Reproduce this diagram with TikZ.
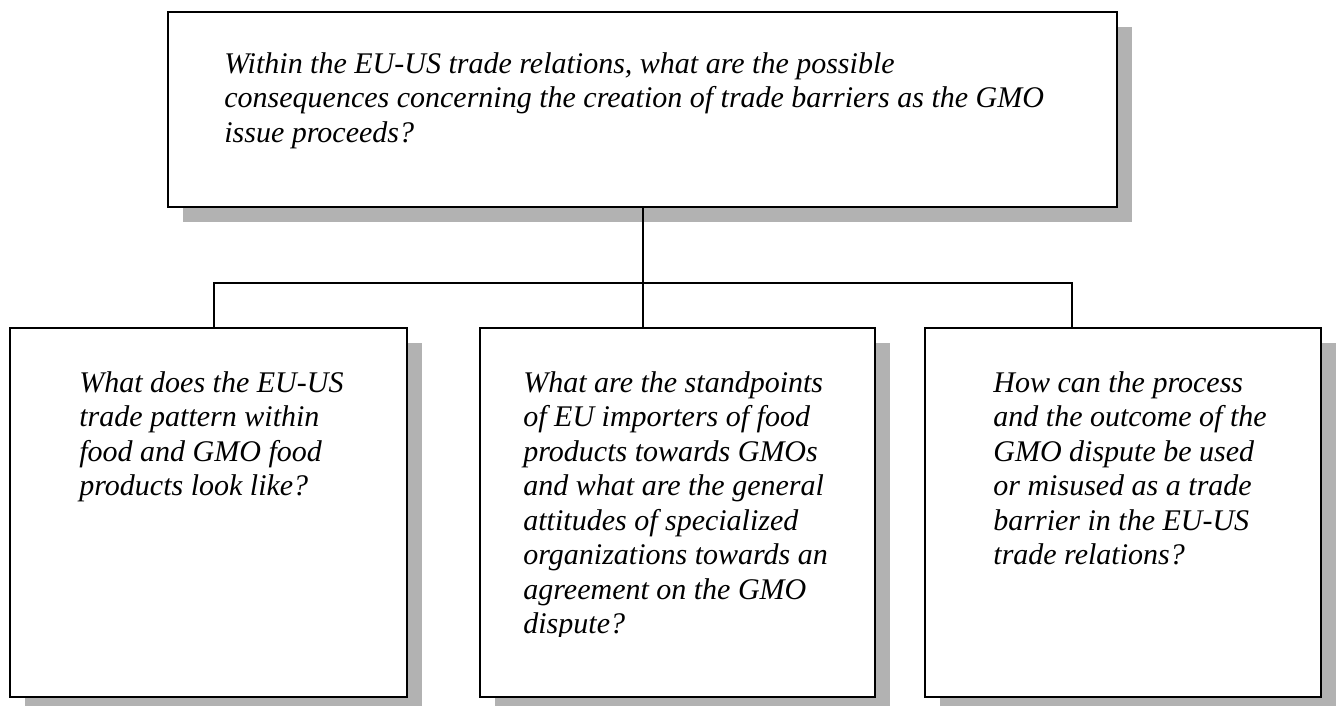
\documentclass[tikz,border=0pt]{standalone}
\usepackage{fontspec}
\setmainfont{Liberation Serif}
\usetikzlibrary{shadows}

\begin{document}
\begin{tikzpicture}[x=0.5pt,y=-0.5pt,
  qbox/.style={draw,line width=1.1pt,fill=white,inner sep=0pt,
    drop shadow={shadow xshift=7.5pt,shadow yshift=-7.5pt,fill=black!30,opacity=1}},
  qtext/.style={anchor=base west,align=left,inner sep=0pt,
    font=\fontsize{15}{17.25}\selectfont\itshape},
  link/.style={line width=1pt}]
\useasboundingbox (0,0) rectangle (1339,706);
\node[qbox,minimum width=474.5pt,minimum height=97.5pt] (main) at (642.5,109.5) {};
\node[qbox,minimum width=198.5pt,minimum height=184.5pt] (left) at (208.5,512.5) {};
\node[qbox,minimum width=197.5pt,minimum height=184.5pt] (mid) at (677.5,512.5) {};
\node[qbox,minimum width=198pt,minimum height=184.5pt] (right) at (1123,512.5) {};
% base anchor sits on the last line
\node[qtext] (maintxt) at (224,142) {Within the EU-US trade relations, what are the possible\\
  consequences concerning the creation of trade barriers as the GMO\\issue proceeds?};
\node[qtext] (lefttxt) at (79,495.5) {What does the EU-US\\trade pattern within\\food and GMO food\\products look like?};
\begin{scope}
\clip (mid.north west) rectangle (875,636);
\node[qtext] (midtxt) at (523,633.5) {What are the standpoints\\of EU importers of food\\products towards GMOs\\
  and what are the general\\attitudes of specialized\\organizations towards an\\agreement on the GMO\\dispute?};
\end{scope}
\node[qtext] (righttxt) at (993,564.5) {How can the process\\and the outcome of the\\GMO dispute be used\\
  or misused as a trade\\barrier in the EU-US\\trade relations?};
% connectors
\coordinate (hub) at (643,283);
\coordinate (lhook) at (214,328);
\coordinate (rhook) at (1072,328);
\draw[link] (main.south) -- (mid.north -| main.south);
\draw[link] (lhook) |- (hub) -| (rhook);
\end{tikzpicture}
\end{document}
